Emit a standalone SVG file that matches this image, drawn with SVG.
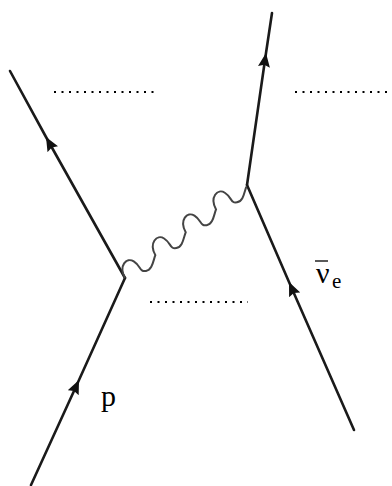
<svg xmlns="http://www.w3.org/2000/svg" width="392" height="486" viewBox="0 0 392 486">
<defs>
<marker id="arr" viewBox="0 0 14 12" refX="14" refY="6" markerWidth="14" markerHeight="12" markerUnits="userSpaceOnUse" orient="auto">
<path d="M0,0 L14,6 L0,12 L2,6 Z" fill="#111"/>
</marker>
</defs>
<style>
.f{fill:none;stroke:#1a1a1a;stroke-width:2.6;stroke-linecap:round;marker-mid:url(#arr)}
.w{fill:none;stroke:#444;stroke-width:2}
.d{fill:none;stroke:#000;stroke-width:2;stroke-dasharray:2 5.5}
.t{font-family:"Liberation Serif","Times New Roman",serif;fill:#000}
</style>
<rect width="392" height="486" fill="#fff"/>
<g id="connectors">
<path id="proton-in" class="f" d="M31,485 L79,380 L125,278"/>
<path id="proton-out" class="f" d="M125,278 L46,137 L10,71"/>
<path id="nu-in" class="f" d="M354,430 L289,282 L247,185"/>
<path id="nu-out" class="f" d="M247,185 L266,53 L272,13"/>
<path id="boson" class="w" transform="translate(125,278) rotate(-37)" d="M0,0 c2,-14 14,-16 17,-8 c3,8 -2,12 4,15 c6,3 12,-4 17,-7 c2,-14 14,-16 17,-8 c3,8 -2,12 4,15 c6,3 12,-4 17,-7 c2,-14 14,-16 17,-8 c3,8 -2,12 4,15 c6,3 12,-4 17,-7 c2,-14 14,-16 17,-8 c3,8 -2,12 4,15 c6,3 12,-4 17,-7"/>
</g>
<g id="dots">
<line class="d" x1="54" y1="92" x2="154" y2="92"/>
<line class="d" x1="295" y1="92" x2="392" y2="92"/>
<line class="d" x1="150" y1="302" x2="248" y2="302"/>
</g>
<g id="label-p">
<text class="t" x="101" y="406" font-size="30">p</text>
</g>
<g id="label-nu">
<text class="t" x="316" y="283" font-size="30">ν</text>
<line x1="315" y1="261" x2="328" y2="261" stroke="#000" stroke-width="1.3"/>
<text class="t" x="332" y="288" font-size="21">e</text>
</g>
</svg>
